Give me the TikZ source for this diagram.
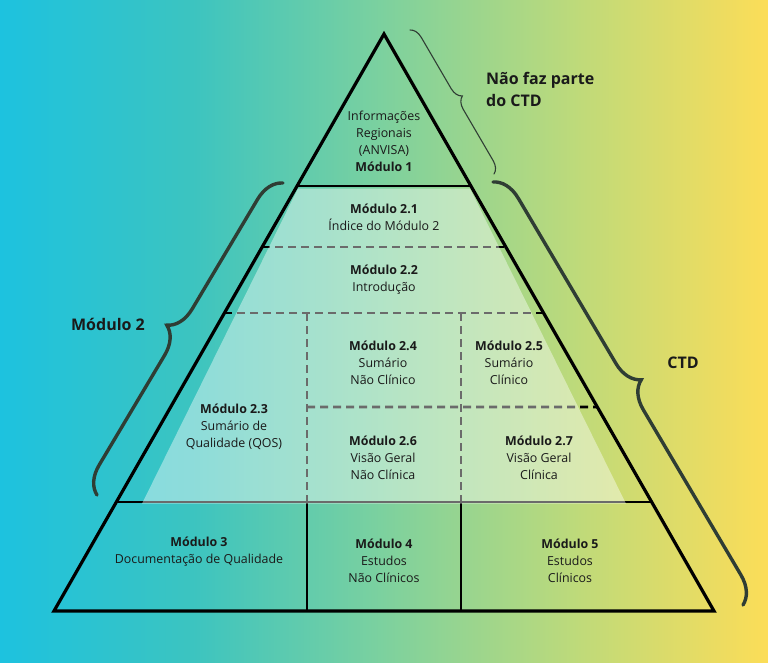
\documentclass[tikz,border=0pt]{standalone}
\usepackage{fontspec}
\setmainfont{Open Sans}
\usetikzlibrary{decorations.pathreplacing,calc}
\definecolor{bgA}{HTML}{1DC2DF}
\definecolor{bgB}{HTML}{3CC4C0}
\definecolor{bgC}{HTML}{7DD19E}
\definecolor{bgD}{HTML}{BEDA7A}
\definecolor{bgE}{HTML}{FCDD58}
\definecolor{txtcol}{HTML}{1A1A1A}
\definecolor{bracecol}{HTML}{2F3D34}
\tikzset{
  edge/.style={line width=3.2pt, line join=miter, draw=black},
  solidline/.style={line width=2.6pt, draw=black},
  dashline/.style={line width=2.8pt, draw=black, dash pattern=on 8pt off 5pt},
  txt/.style={inner sep=0pt, align=center, text=txtcol, font=\fontsize{12.4}{17}\selectfont},
  lbl/.style={inner sep=0pt, text=txtcol, font=\fontsize{16}{22}\selectfont\bfseries},
  bigbrace/.style={line width=3.4pt, draw=bracecol, line cap=round, decorate, decoration={brace, amplitude=27pt}},
  thinbrace/.style={line width=1.1pt, draw=bracecol, line cap=round, decorate, decoration={brace, amplitude=12pt}}
}
\begin{document}
\begin{tikzpicture}[x=1pt,y=-1pt]
\useasboundingbox (0,0) rectangle (768,662);
% background
\fill[left color=bgA,right color=bgB] (0,0) rectangle (193,662);
\fill[left color=bgB,right color=bgC] (192,0) rectangle (385,662);
\fill[left color=bgC,right color=bgD] (384,0) rectangle (577,662);
\fill[left color=bgD,right color=bgE] (576,0) rectangle (768,662);
% triangle
\coordinate (A) at (384,34);
\coordinate (BL) at (54,611);
\coordinate (BR) at (714,611);
\coordinate (l1) at ($(A)!0.2634!(BL)$);
\coordinate (r1) at ($(A)!0.2634!(BR)$);
\coordinate (l2) at ($(A)!0.3692!(BL)$);
\coordinate (r2) at ($(A)!0.3692!(BR)$);
\coordinate (l3) at ($(A)!0.4835!(BL)$);
\coordinate (r3) at ($(A)!0.4835!(BR)$);
\coordinate (r4) at ($(A)!0.6464!(BR)$);
\coordinate (l5) at ($(A)!0.8111!(BL)$);
\coordinate (r5) at ($(A)!0.8111!(BR)$);
\coordinate (v1t) at (307,313);
\coordinate (v1m) at (307,502);
\coordinate (v1b) at (307,611);
\coordinate (v2t) at (461,313);
\coordinate (v2m) at (461,502);
\coordinate (v2b) at (461,611);
\coordinate (h4) at (307,407);
% inner lines
\draw[dashline] (l2) -- (r2);
\draw[dashline] (l3) -- (r3);
\draw[dashline] (v1t) -- (v1m);
\draw[dashline] (v2t) -- (v2m);
\draw[dashline] (h4) -- (r4);
\draw[solidline] (l5) -- (r5);
\draw[solidline] (v1m) -- (v1b);
\draw[solidline] (v2m) -- (v2b);
\draw[solidline] (l1) -- (r1);
\draw[edge] (A) -- (BL) -- (BR) -- cycle;
% translucent module 2 area
\fill[white, opacity=0.42] (298,188.5) -- (470,188.5) -- (626,503.7) -- (142,503.7) -- cycle;
% texts
\node[txt] (m1) at (384,141) {Informações\\Regionais\\(ANVISA)\\\textbf{Módulo 1}};
\node[txt] (m21) at (384,217) {\textbf{Módulo 2.1}\\Índice do Módulo 2};
\node[txt] (m22) at (384,280) {\textbf{Módulo 2.2}\\Introdução};
\node[txt] (m23) at (234,427) {\textbf{Módulo 2.3}\\Sumário de\\Qualidade (QOS)};
\node[txt] (m24) at (383,363) {\textbf{Módulo 2.4}\\Sumário\\Não Clínico};
\node[txt] (m25) at (509,363) {\textbf{Módulo 2.5}\\Sumário\\Clínico};
\node[txt] (m26) at (383,458) {\textbf{Módulo 2.6}\\Visão Geral\\Não Clínica};
\node[txt] (m27) at (539,458) {\textbf{Módulo 2.7}\\Visão Geral\\Clínica};
\node[txt] (m3) at (199,552) {\textbf{Módulo 3}\\Documentação de Qualidade};
\node[txt] (m4) at (384,561) {\textbf{Módulo 4}\\Estudos\\Não Clínicos};
\node[txt] (m5) at (570,561) {\textbf{Módulo 5}\\Estudos\\Clínicos};
% braces
\coordinate (tb1) at (410,30);
\coordinate (tb2) at (494,174);
\coordinate (lb1) at (97,495);
\coordinate (lb2) at (283,183);
\coordinate (rb1) at (493,182);
\coordinate (rb2) at (743,605);
\draw[thinbrace] (tb1) -- (tb2);
\draw[bigbrace] (lb1) -- (lb2);
\draw[bigbrace] (rb1) -- (rb2);
% labels
\node[lbl, align=left, anchor=west] (nfp) at (486,89) {Não faz parte\\do CTD};
\node[lbl] (lm2) at (108,324) {Módulo 2};
\node[lbl] (lctd) at (683,363) {CTD};
\end{tikzpicture}
\end{document}
